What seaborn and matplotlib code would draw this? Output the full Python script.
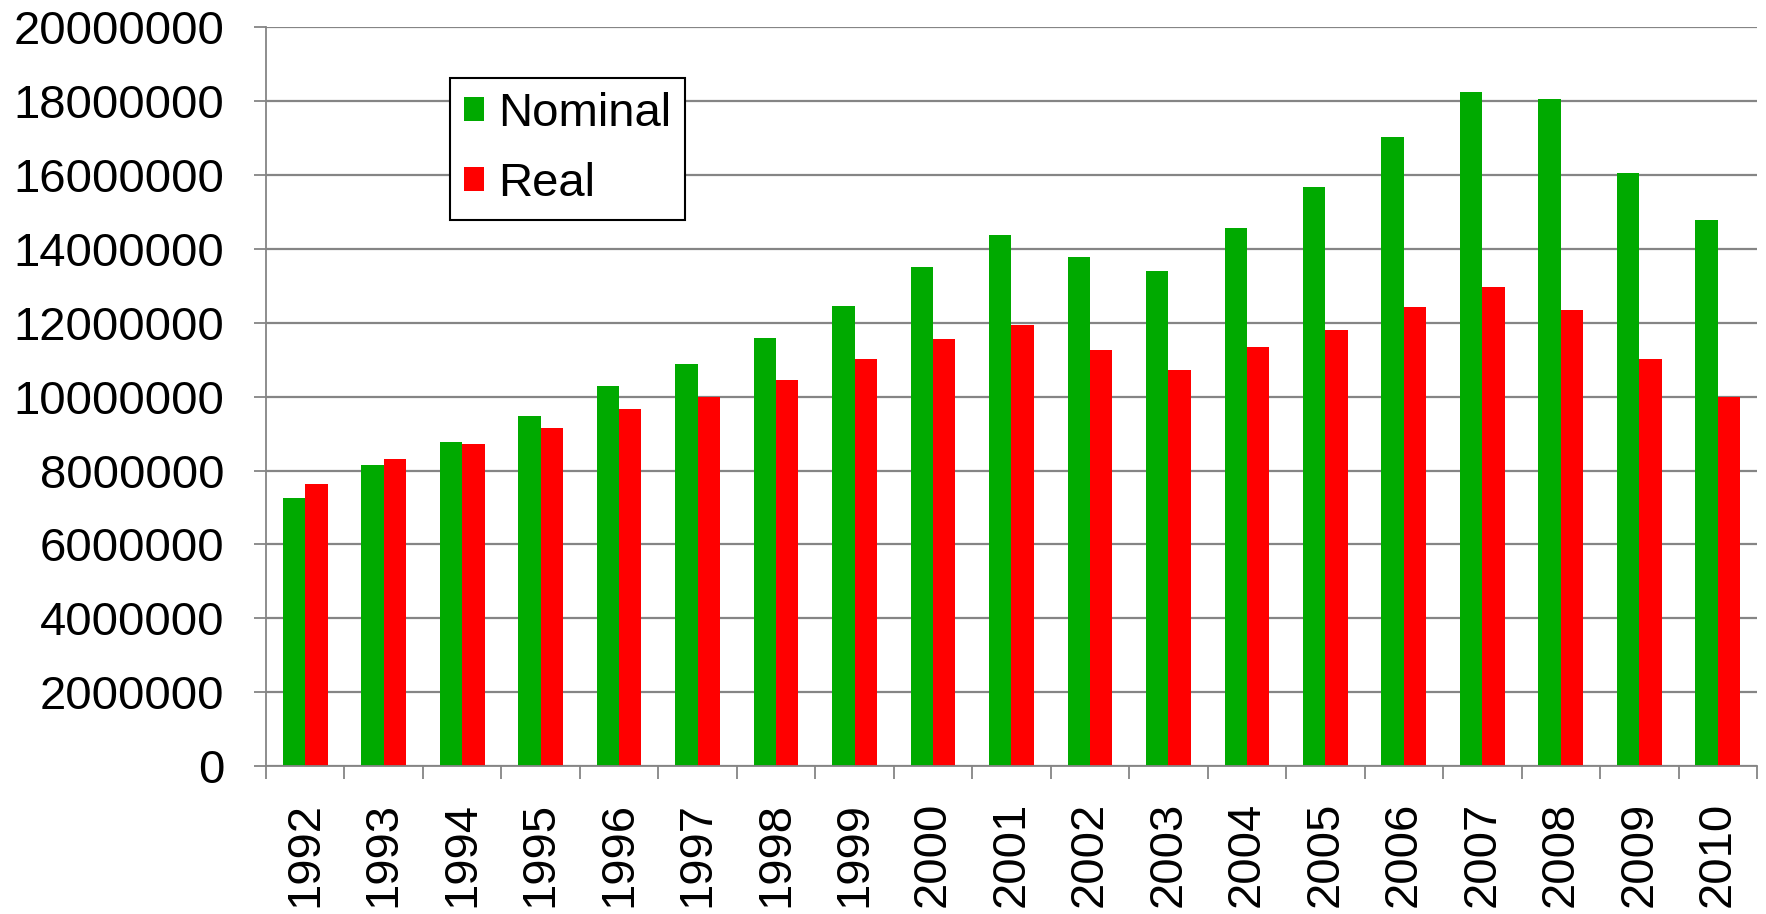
import pandas as pd
import seaborn as sns
import matplotlib.pyplot as plt
from matplotlib.ticker import FixedLocator

years = [str(y) for y in range(1992, 2011)]
nominal = [7260000, 8150000, 8780000, 9470000, 10290000, 10890000, 11580000,
           12450000, 13510000, 14370000, 13770000, 13400000, 14570000,
           15670000, 17030000, 18250000, 18070000, 16070000, 14780000]
real = [7630000, 8300000, 8730000, 9160000, 9660000, 10000000, 10460000,
        11010000, 11550000, 11940000, 11270000, 10730000, 11350000,
        11810000, 12430000, 12960000, 12360000, 11030000, 9980000]
series = ['Nominal', 'Real']
colors = ['#00AA00', '#FF0000']

df = pd.DataFrame({'year': years * 2,
                   'value': nominal + real,
                   'series': [series[0]] * len(years) + [series[1]] * len(years)})

sns.set_style('white')
plt.rcParams['font.family'] = ['Liberation Sans', 'DejaVu Sans']
plt.rcParams['text.color'] = 'black'
plt.rcParams['xtick.labelcolor'] = 'black'
plt.rcParams['ytick.labelcolor'] = 'black'

fig = plt.figure(figsize=(17.66, 9.14), dpi=100)
ax = fig.add_axes([0.1506, 0.162, 0.8443, 0.808])

sns.barplot(data=df, x='year', y='value', hue='series', palette=colors,
            width=0.57, saturation=1, linewidth=0, ax=ax)

grey = '#858585'
ax.set_ylim(0, 20000000)
ax.set_xlim(-0.5, len(years) - 0.5)
ax.set_yticks(range(0, 20000001, 2000000))
ax.set_yticklabels([str(v) for v in range(0, 20000001, 2000000)])
ax.yaxis.grid(True, color=grey, linewidth=1.6)
ax.set_axisbelow(True)

for s in ['top', 'right']:
    ax.spines[s].set_visible(False)
for s in ['left', 'bottom']:
    ax.spines[s].set_color(grey)
    ax.spines[s].set_linewidth(1.3)

ax.tick_params(axis='y', which='major', direction='out', length=9,
               width=1.3, color=grey, labelsize=34, pad=21, left=True,
               labelcolor='black')
ax.tick_params(axis='x', which='major', length=0, labelsize=34, pad=26,
               labelrotation=90, labelcolor='black')
ax.xaxis.set_minor_locator(FixedLocator([i - 0.5 for i in range(len(years) + 1)]))
ax.tick_params(axis='x', which='minor', direction='out', length=9,
               width=1.3, color=grey, bottom=True)
for lbl in ax.get_xticklabels():
    lbl.set_verticalalignment('top')

ax.set_xlabel('')
ax.set_ylabel('')

leg = ax.legend(loc='upper left', bbox_to_anchor=(0.1234, 0.932),
                borderaxespad=0, fontsize=34, frameon=True, fancybox=False,
                edgecolor='black', framealpha=1, handlelength=0.42,
                handleheight=0.42, handletextpad=0.3, labelspacing=0.55,
                borderpad=0.3)
leg.get_frame().set_linewidth(1.5)
for t in leg.get_texts():
    t.set_color('black')

plt.savefig('out.png', dpi=100)
